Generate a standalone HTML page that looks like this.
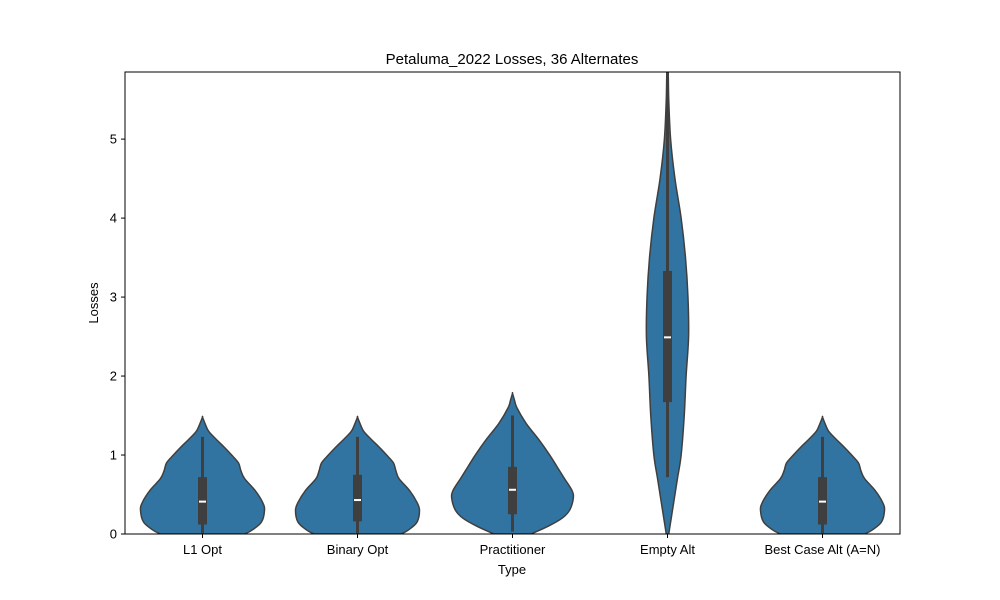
<!DOCTYPE html>
<html><head><meta charset="utf-8"><style>
body{margin:0;background:#fff}svg{display:block;font-family:"Liberation Sans","DejaVu Sans",sans-serif}
</style></head><body>
<svg id="chart" width="1000" height="600"></svg>
<script>
const categories=["L1 Opt","Binary Opt","Practitioner","Empty Alt","Best Case Alt (A=N)"];
const yTicks=[0,1,2,3,4,5];
// density profiles: values and relative half-width (0..1)
const profVals=[
 [0,0.05,0.15,0.3,0.4,0.55,0.7,0.8,0.9,1.0,1.1,1.2,1.3,1.4,1.48],
 [0,0.05,0.15,0.3,0.4,0.55,0.7,0.8,0.9,1.0,1.1,1.2,1.3,1.4,1.48],
 [0,0.1,0.2,0.3,0.45,0.55,0.7,0.85,1.0,1.2,1.4,1.6,1.7,1.78],
 [0,0.2,0.4,0.7,1.0,1.5,2.0,2.5,3.0,3.5,4.0,4.5,5.0,5.5,5.85],
 [0,0.05,0.15,0.3,0.4,0.55,0.7,0.8,0.9,1.0,1.1,1.2,1.3,1.4,1.48]];
const profW=[
 [0.68,0.8,0.95,1.0,0.97,0.85,0.68,0.62,0.58,0.47,0.35,0.22,0.1,0.04,0],
 [0.7,0.82,0.96,1.0,0.96,0.84,0.67,0.62,0.58,0.47,0.35,0.22,0.1,0.04,0],
 [0.3,0.58,0.8,0.92,0.98,0.96,0.84,0.72,0.6,0.42,0.22,0.07,0.03,0],
 [0.02,0.06,0.1,0.16,0.22,0.27,0.3,0.34,0.33,0.29,0.22,0.12,0.05,0.02,0.01],
 [0.68,0.8,0.95,1.0,0.97,0.85,0.68,0.62,0.58,0.47,0.35,0.22,0.1,0.04,0]];
const q1=[0.12,0.16,0.25,1.67,0.12], q3=[0.72,0.75,0.85,3.33,0.72], med=[0.41,0.43,0.56,2.49,0.41];
const wLo=[0.0,0.0,0.03,0.72,0.0], wHi=[1.23,1.23,1.5,5.85,1.23];

const L=125,R=900,T=72,B=534,yMax=5.85,maxHalf=62;
const y=v=>B-v/yMax*(B-T);
const x=i=>L+(R-L)*(i+0.5)/categories.length;
const svg=document.getElementById('chart');const NS='http://www.w3.org/2000/svg';
function mk(tag,at,txt){const e=document.createElementNS(NS,tag);for(const k in at)e.setAttribute(k,at[k]);if(txt!=null)e.textContent=txt;svg.appendChild(e);return e;}
const clip=mk('clipPath',{id:'cp'});const cr=document.createElementNS(NS,'rect');cr.setAttribute('x',L);cr.setAttribute('y',T);cr.setAttribute('width',R-L);cr.setAttribute('height',B-T);clip.appendChild(cr);
categories.forEach((c,i)=>{
 const cx=x(i),vs=profVals[i],ws=profW[i];
 let pts=vs.map((v,k)=>[cx+ws[k]*maxHalf,y(v)]);
 let left=vs.map((v,k)=>[cx-ws[k]*maxHalf,y(v)]).reverse();
 let all=pts.concat(left);
 // smooth via catmull-rom
 let d='M'+all[0].join(',');
 for(let k=0;k<all.length-1;k++){const p0=all[Math.max(k-1,0)],p1=all[k],p2=all[k+1],p3=all[Math.min(k+2,all.length-1)];
  d+=` C${p1[0]+(p2[0]-p0[0])/6},${p1[1]+(p2[1]-p0[1])/6} ${p2[0]-(p3[0]-p1[0])/6},${p2[1]-(p3[1]-p1[1])/6} ${p2[0]},${p2[1]}`;}
 d+='Z';
 const v=mk('path',{d,fill:'#3274a1',stroke:'#3f3f3f','stroke-width':1.5,'clip-path':'url(#cp)'});
 
 
 const w=mk('line',{x1:cx,x2:cx,y1:y(wLo[i]),y2:y(wHi[i]),stroke:'#3f3f3f','stroke-width':3});
 
 
 const b=mk('rect',{x:cx-4.5,y:y(q3[i]),width:9,height:y(q1[i])-y(q3[i]),fill:'#3f3f3f'});
 
 
 const m=mk('line',{x1:cx-3.5,x2:cx+3.5,y1:y(med[i]),y2:y(med[i]),stroke:'#fff','stroke-width':2});
 
 
 mk('line',{x1:cx,x2:cx,y1:B,y2:B+4,stroke:'#000','stroke-width':1});
 const t=mk('text',{x:cx,y:B+20,'text-anchor':'middle','font-size':13},c);
 
 
});
yTicks.forEach(v=>{mk('line',{x1:L-4,x2:L,y1:y(v),y2:y(v),stroke:'#000'});
 const t=mk('text',{x:L-8,y:y(v)+4.5,'text-anchor':'end','font-size':13},v);
 
 });
mk('rect',{x:L,y:T,width:R-L,height:B-T,fill:'none',stroke:'#000','stroke-width':1,});
mk('text',{x:512,y:64,'text-anchor':'middle','font-size':15,},'Petaluma_2022 Losses, 36 Alternates');
mk('text',{x:512,y:574,'text-anchor':'middle','font-size':13,},'Type');
mk('text',{x:98,y:303,'text-anchor':'middle','font-size':13,transform:'rotate(-90 98 303)',},'Losses');
</script>
</body></html>
